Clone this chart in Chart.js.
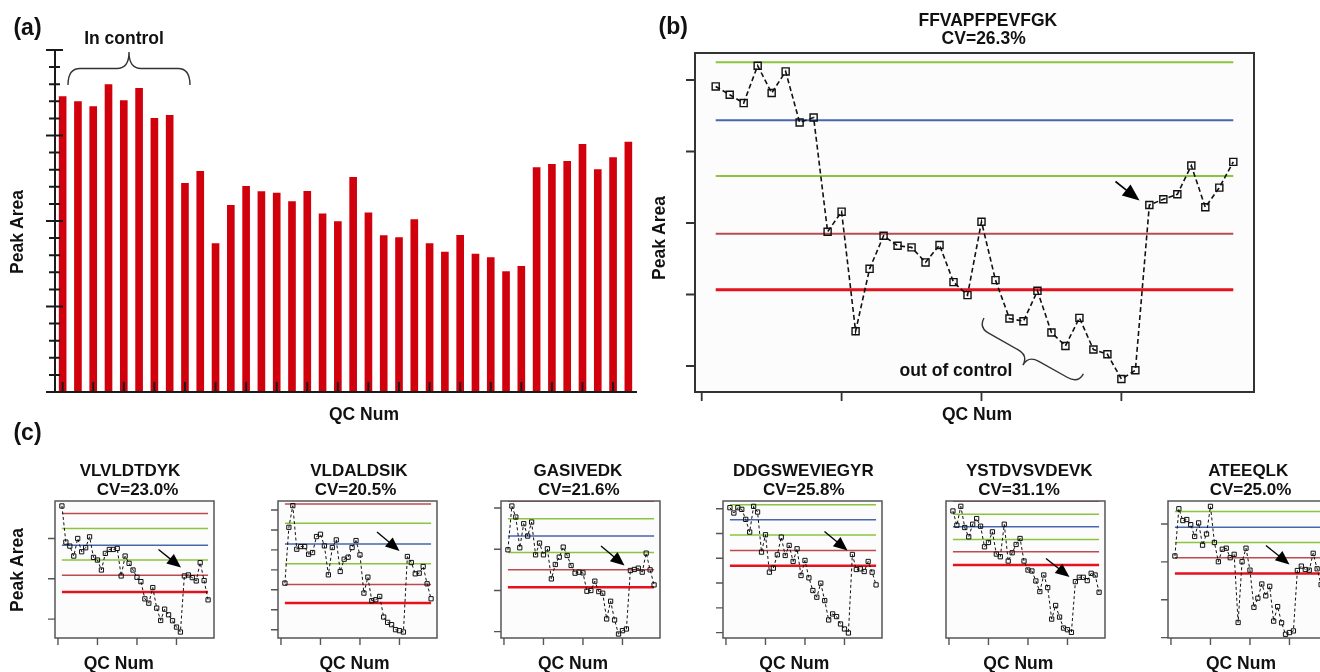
<!DOCTYPE html>
<html>
<head>
<meta charset="utf-8">
<script src="https://cdn.jsdelivr.net/npm/chart.js@4.4.0/dist/chart.umd.min.js"></script>
<style>
html,body{margin:0;padding:0;width:1320px;height:672px;overflow:hidden;background:#fff;font-family:"Liberation Sans",Arial,Helvetica,sans-serif;}
canvas.c{position:absolute;}
.t{position:absolute;font-weight:bold;white-space:nowrap;line-height:1;color:#111;z-index:10;}
svg.ov{position:absolute;left:0;top:0;z-index:8;pointer-events:none;}
</style>
</head>
<body>
<script>
// ---------------- DATA ----------------
const qcNum = [1,2,3,4,5,6,7,8,9,10,11,12,13,14,15,16,17,18,19,20,21,22,23,24,25,26,27,28,29,30,31,32,33,34,35,36,37,38];

// (a) bar heights (Peak Area, arbitrary units)
const barPeakArea = [17.29,17.00,16.71,17.99,17.06,17.78,16.02,16.20,12.22,12.92,8.70,10.94,12.05,11.74,11.65,11.15,11.75,10.44,9.98,12.57,10.50,9.16,9.05,10.10,8.70,8.20,9.18,8.09,7.88,7.06,7.37,13.14,13.33,13.51,14.50,13.02,13.73,14.64];
const barYTicks = [0,1,2,3,4,5,6,7,8,9,10,11,12,13,14,15,16,17,18,19,20];

// (b) FFVAPFPEVFGK
const ffvapfpevfgk = [4.910,4.794,4.678,5.200,4.818,5.120,4.406,4.476,2.878,3.158,1.486,2.359,2.822,2.682,2.659,2.449,2.692,2.173,1.991,3.018,2.201,1.664,1.626,2.051,1.468,1.280,1.673,1.230,1.164,0.818,0.940,3.252,3.332,3.402,3.803,3.220,3.495,3.855];
const ffvapfpevfgkLimits = [5.247,4.439,3.659,2.850,2.065];
const bYTicks = [1,2,3,4,5];
const qcXTicks = [0,10,20,30];

// (c) six peptides
const vlvldtdyk = [3.807,2.909,2.811,2.564,3.000,2.671,2.770,3.041,2.531,2.465,2.218,2.630,2.728,2.728,2.753,2.070,2.564,2.383,2.218,2.037,1.930,1.502,1.395,1.782,1.272,0.967,1.247,1.107,0.959,0.802,0.679,2.070,2.095,2.029,1.947,2.399,1.955,1.477];
const vlvldtdykLimits = [3.617,3.247,2.835,2.465,2.086,1.675];

const vldaldsik = [2.333,5.133,6.217,4.033,4.167,4.167,3.783,3.867,4.667,4.783,4.200,2.750,4.117,4.500,2.917,3.533,3.633,4.117,4.467,3.750,1.833,2.633,1.450,1.500,1.667,0.633,0.367,0.250,0.000,-0.050,-0.117,3.667,3.367,2.800,2.833,3.167,2.300,1.550];
const vldaldsikLimits = [6.300,5.333,4.300,3.300,2.267,1.333];

const gasivedk = [1.987,3.049,2.782,2.036,2.620,2.320,2.660,1.865,2.149,1.865,2.011,1.281,1.630,1.809,2.052,1.849,1.606,1.419,1.444,1.427,0.981,0.998,1.225,0.973,0.933,0.308,0.738,0.284,-0.057,0.024,0.065,1.484,1.509,1.541,1.444,1.906,1.500,1.135];
const gasivedkLimits = [3.163,2.741,2.320,1.922,1.500,1.079];

const ddgsweviegyr = [5.040,4.825,5.040,4.973,4.569,4.057,5.094,4.865,3.248,3.949,2.439,2.601,3.140,3.854,3.113,3.518,2.871,3.383,2.305,2.911,2.210,1.698,1.429,1.995,1.294,0.512,0.755,0.647,0.350,0.148,-0.013,3.154,2.547,2.574,2.466,2.871,2.439,1.927];
const ddgsweviegyrLimits = [5.162,4.555,3.935,3.315,2.695];

const ystdvsvdevk = [3.78,3.35,3.92,3.28,3.00,3.38,3.55,3.32,2.70,2.83,3.15,2.48,2.40,3.38,2.27,2.52,2.77,2.95,2.27,2.00,1.97,1.67,1.35,1.85,1.47,0.52,0.93,0.58,0.25,0.20,0.12,1.65,1.78,1.78,1.68,1.90,1.85,1.33];
const ystdvsvdevkLimits = [4.07,3.68,3.30,2.92,2.55,2.15];

const ateeqlk = [2.155,3.402,3.090,3.117,2.983,2.671,3.028,2.440,2.734,3.464,2.511,2.004,2.333,2.360,2.110,2.199,0.401,2.004,2.360,1.781,0.801,1.042,1.416,1.104,1.354,0.436,0.819,0.392,0.089,0.134,0.178,1.772,1.888,1.799,1.781,2.226,1.817,1.400];
const ateeqlkLimits = [3.330,2.912,2.511,2.110,1.692];

const peptideNames = ['VLVLDTDYK','VLDALDSIK','GASIVEDK','DDGSWEVIEGYR','YSTDVSVDEVK','ATEEQLK'];
const peptideCVs = ['CV=23.0%','CV=20.5%','CV=21.6%','CV=25.8%','CV=31.1%','CV=25.0%'];
const mainPeptide = 'FFVAPFPEVFGK';
const mainCV = 'CV=26.3%';

// ---------------- STYLE ----------------
const COL = { g:'#8cc43f', b:'#4866b0', dr:'#bb4b50', r:'#e3121c' };

Chart.defaults.font.family = '"Liberation Sans", Arial, sans-serif';

function makeCanvas(left, top, w, h) {
  const c = document.createElement('canvas');
  c.className = 'c';
  c.width = w; c.height = h;
  c.style.left = left + 'px'; c.style.top = top + 'px';
  c.style.width = w + 'px'; c.style.height = h + 'px';
  document.body.appendChild(c);
  return c;
}

const framePlugin = {
  id: 'frameTicks',
  beforeDatasetsDraw(chart, args, o) {
    const {ctx, chartArea: a} = chart;
    ctx.save();
    ctx.fillStyle = o.bg || '#fcfcfc';
    ctx.fillRect(a.left, a.top, a.right - a.left, a.bottom - a.top);
    ctx.restore();
  },
  afterDatasetsDraw(chart, args, o) {
    const {ctx, chartArea: a, scales: {x, y}} = chart;
    ctx.save();
    ctx.strokeStyle = o.color; ctx.lineWidth = o.width;
    ctx.strokeRect(a.left, a.top, a.right - a.left, a.bottom - a.top);
    ctx.lineWidth = o.tickWidth;
    ctx.beginPath();
    (o.yTicks || []).forEach(v => {
      const py = y.getPixelForValue(v);
      ctx.moveTo(a.left - o.tickLen, py); ctx.lineTo(a.left, py);
    });
    (o.xTicks || []).forEach(v => {
      const px = x.getPixelForValue(v);
      ctx.moveTo(px, a.bottom); ctx.lineTo(px, a.bottom + o.tickLen);
    });
    ctx.stroke();
    ctx.restore();
  }
};

const axisAPlugin = {
  id: 'axisA',
  afterDatasetsDraw(chart, args, o) {
    const {ctx, chartArea: a, scales: {x, y}} = chart;
    ctx.save();
    ctx.strokeStyle = '#1a1a1a';
    ctx.lineWidth = 2;
    ctx.beginPath();
    ctx.moveTo(a.left, y.getPixelForValue(o.ticks[o.ticks.length - 1]));
    ctx.lineTo(a.left, a.bottom + 1);
    ctx.moveTo(a.left - 9, a.bottom);
    ctx.lineTo(a.right + 1, a.bottom);
    ctx.stroke();
    ctx.beginPath();
    o.ticks.forEach(v => {
      const py = y.getPixelForValue(v);
      if (v % 5 === 0) { ctx.moveTo(a.left - 9, py); ctx.lineTo(a.left + 8, py); }
      else { ctx.moveTo(a.left - 6, py); ctx.lineTo(a.left + 5, py); }
    });
    ctx.stroke();
    ctx.beginPath();
    x.ticks.forEach((t, i) => {
      const px = x.getPixelForTick(i);
      ctx.moveTo(px, a.bottom - 10); ctx.lineTo(px, a.bottom);
    });
    ctx.stroke();
    ctx.restore();
  }
};

// ---------------- (a) BAR CHART ----------------
(function () {
  const padL = 20, padT = 15, padR = 10, padB = 15;
  const areaL = 55, areaT = 50, areaW = 581, areaH = 342;
  const cv = makeCanvas(areaL - padL, areaT - padT, areaW + padL + padR, areaH + padT + padB);
  new Chart(cv, {
    type: 'bar',
    data: {
      labels: qcNum,
      datasets: [{ data: barPeakArea, backgroundColor: '#d0000d', borderWidth: 0, barPercentage: 0.5, categoryPercentage: 1.0 }]
    },
    options: {
      responsive: false, animation: false, devicePixelRatio: 1,
      layout: { padding: { left: padL, top: padT, right: padR, bottom: padB } },
      scales: {
        x: { display: false, offset: true },
        y: { display: false, min: 0, max: 20 }
      },
      plugins: { legend: { display: false }, tooltip: { enabled: false }, axisA: { ticks: barYTicks } }
    },
    plugins: [axisAPlugin]
  });
})();

// ---------------- line chart helper ----------------
function controlChart(spec) {
  const pad = spec.pad;
  const cv = makeCanvas(spec.left - pad, spec.top - pad, spec.w + 2 * pad, spec.h + 2 * pad);
  const datasets = [{
    data: qcNum.map((q, i) => ({ x: q, y: spec.values[i] })),
    borderColor: '#111', borderWidth: spec.lineW, borderDash: spec.dash,
    pointStyle: 'rect', pointRadius: spec.ptR, pointBorderWidth: spec.ptBW,
    pointBorderColor: '#111', pointBackgroundColor: 'rgba(255,255,255,0)',
    tension: 0, fill: false
  }];
  spec.limits.forEach((v, k) => {
    const role = spec.roles[k];
    datasets.push({
      data: [{ x: qcNum[0], y: v }, { x: qcNum[qcNum.length - 1], y: v }],
      borderColor: COL[role], borderWidth: role === 'r' ? spec.redW : spec.limW,
      pointRadius: 0, fill: false
    });
  });
  new Chart(cv, {
    type: 'line',
    data: { datasets },
    options: {
      responsive: false, animation: false, devicePixelRatio: 1,
      layout: { padding: pad },
      scales: {
        x: { type: 'linear', display: false, min: spec.xMin, max: spec.xMax },
        y: { type: 'linear', display: false, min: spec.yMin, max: spec.yMax }
      },
      plugins: {
        legend: { display: false }, tooltip: { enabled: false },
        frameTicks: { color: spec.frameColor, width: spec.frameW, tickWidth: spec.tickW, tickLen: spec.tickLen,
                      yTicks: spec.yTicks, xTicks: qcXTicks, bg: '#fcfcfc' }
      }
    },
    plugins: [framePlugin]
  });
}

// ---------------- (b) ----------------
controlChart({
  left: 695, top: 53, w: 559, h: 339, pad: 15,
  values: ffvapfpevfgk, limits: ffvapfpevfgkLimits, roles: ['g','b','g','dr','r'],
  xMin: -0.48, xMax: 39.48, yMin: 0.636, yMax: 5.378, yTicks: bYTicks,
  lineW: 1.6, dash: [5, 3], ptR: 5, ptBW: 1.4, limW: 2, redW: 3,
  frameColor: '#333', frameW: 2, tickW: 1.8, tickLen: 9
});

// ---------------- (c) ----------------
const smallSpecs = [
  { left: 55,  values: vlvldtdyk,    limits: vlvldtdykLimits,    roles: ['dr','g','b','g','dr','r'], yMin: 0.531,  yMax: 3.93,  yTicks: [1,2,3] },
  { left: 278, values: vldaldsik,    limits: vldaldsikLimits,    roles: ['dr','g','b','g','dr','r'], yMin: -0.417, yMax: 6.45,  yTicks: [0,1,2,3,4,5,6] },
  { left: 501, values: gasivedk,     limits: gasivedkLimits,     roles: ['dr','g','b','g','dr','r'], yMin: -0.154, yMax: 3.171, yTicks: [0,1,2,3] },
  { left: 723, values: ddgsweviegyr, limits: ddgsweviegyrLimits, roles: ['g','b','g','dr','r'],      yMin: -0.216, yMax: 5.31,  yTicks: [0,1,2,3,4,5] },
  { left: 946, values: ystdvsvdevk,  limits: ystdvsvdevkLimits,  roles: ['dr','g','b','g','dr','r'], yMin: -0.05,  yMax: 4.08,  yTicks: [] },
  { left: 1168,values: ateeqlk,      limits: ateeqlkLimits,      roles: ['g','b','g','dr','r'],      yMin: -0.009, yMax: 3.606, yTicks: [0,1,2,3] }
];
smallSpecs.forEach(s => controlChart(Object.assign({
  top: 501, w: 159, h: 137, pad: 10,
  xMin: -0.75, xMax: 39.5,
  lineW: 1, dash: [3, 2.5], ptR: 3, ptBW: 1, limW: 1.5, redW: 2.5,
  frameColor: '#555', frameW: 1.5, tickW: 1.4, tickLen: 7
}, s)));

// ---------------- annotations (arrows, braces) ----------------
function arrow(x1, y1, x2, y2, hl, hw, lw) {
  const dx = x2 - x1, dy = y2 - y1, L = Math.hypot(dx, dy), ux = dx / L, uy = dy / L;
  const bx = x2 - ux * hl, by = y2 - uy * hl;
  const px = -uy * hw / 2, py = ux * hw / 2;
  return `<line x1="${x1}" y1="${y1}" x2="${bx + ux}" y2="${by + uy}" stroke="#000" stroke-width="${lw}"/>` +
         `<polygon points="${x2},${y2} ${bx + px},${by + py} ${bx - px},${by - py}" fill="#000"/>`;
}
function brace(L, h) {
  const m = L / 2, r = Math.min(12, L / 8), w = h / 2;
  return `M0,0 Q0,${w} ${r},${w} L${m - r},${w} Q${m},${w} ${m},${h} Q${m},${w} ${m + r},${w} L${L - r},${w} Q${L},${w} ${L},0`;
}
let svg = `<svg class="ov" width="1320" height="672" xmlns="http://www.w3.org/2000/svg">`;
svg += arrow(1115.5, 181.5, 1139.5, 200.5, 17, 14, 1.6);
svg += arrow(158.5, 549.5, 181, 567.5, 14, 12, 1.3);
svg += arrow(377, 532, 399.5, 551, 14, 12, 1.3);
svg += arrow(601, 546, 624.5, 565.5, 14, 12, 1.3);
svg += arrow(824.5, 531.5, 847.5, 550.5, 14, 12, 1.3);
svg += arrow(1046, 558.5, 1069.5, 577, 14, 12, 1.3);
svg += arrow(1266, 545.5, 1289.5, 564.5, 14, 12, 1.3);
// (a) "In control" brace (tip upward)
svg += `<path d="${brace(122, 33)}" transform="translate(68,85) scale(1,-1)" fill="none" stroke="#333" stroke-width="1.4"/>`;
// (b) "out of control" brace (rotated, tip toward lower-left)
svg += `<path d="${brace(114, 22)}" transform="translate(984,318) rotate(29.3)" fill="none" stroke="#333" stroke-width="1.4"/>`;
svg += `</svg>`;
document.body.insertAdjacentHTML('beforeend', svg);

// ---------------- text ----------------
function label(text, x, y, size, rot) {
  const d = document.createElement('div');
  d.className = 't';
  d.textContent = text;
  d.style.left = x + 'px'; d.style.top = y + 'px'; d.style.fontSize = size + 'px';
  d.style.transform = 'translate(-50%,-50%)' + (rot ? ' rotate(-90deg)' : '');
  document.body.appendChild(d);
}
label('(a)', 27.5, 27, 23);
label('(b)', 673.3, 26, 23);
label('(c)', 27.5, 432, 23);
label('In control', 124, 38.5, 17.5);
label('out of control', 956, 370.7, 17.5);
label('Peak Area', 18.3, 231.5, 17.5, true);
label('Peak Area', 660, 238, 17.5, true);
label('Peak Area', 18.3, 569.5, 17.5, true);
label('QC Num', 364, 415, 17.5);
label('QC Num', 977, 415, 17.5);
label(mainPeptide, 987.8, 21, 17.5);
label(mainCV, 983.7, 38.5, 17.5);
const titleX = [130, 358.8, 578, 803.3, 1029.3, 1248.3];
const cvX = [137.5, 355.5, 578.8, 803.8, 1019, 1250.5];
const qcX = [118.7, 354.5, 573, 794.3, 1018.3, 1241];
peptideNames.forEach((n, i) => {
  label(n, titleX[i], 469.5, 17);
  label(peptideCVs[i], cvX[i], 488.5, 17);
  label('QC Num', qcX[i], 664, 17.5);
});
</script>
</body>
</html>
